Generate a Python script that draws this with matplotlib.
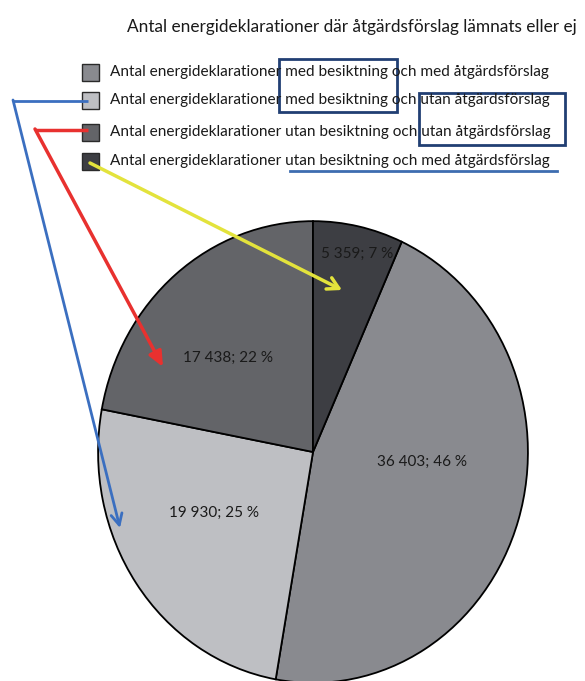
import numpy as np
import matplotlib
matplotlib.use('Agg')
import matplotlib.pyplot as plt
from matplotlib.patches import Rectangle

plt.rcParams['font.family'] = ['Lato', 'DejaVu Sans']

# data, in legend order
title = 'Antal energideklarationer där åtgärdsförslag lämnats eller ej'
categories = [
    'Antal energideklarationer med besiktning och med åtgärdsförslag',
    'Antal energideklarationer med besiktning och utan åtgärdsförslag',
    'Antal energideklarationer utan besiktning och utan åtgärdsförslag',
    'Antal energideklarationer utan besiktning och med åtgärdsförslag',
]
values = [36403, 19930, 17438, 5359]
value_labels = ['36 403; 46 %', '19 930; 25 %', '17 438; 22 %', '5 359; 7 %']

colors = ['#898a8f', '#bebfc3', '#636468', '#3d3e43']
# label placement: radius and angle shift from the wedge middle
label_r = [0.51, 0.53, 0.57, 0.88]
label_dang = [12.4, -5.0, 4.5, -1.2]

W, H = 585, 681
fig = plt.figure(figsize=(W / 100, H / 100), dpi=100)

# pie (slightly stretched vertically, like the scanned original)
cx, cy, rx, ry = 313, 452, 216, 232
ax = fig.add_axes([(cx - rx) / W, (H - cy - ry) / H, 2 * rx / W, 2 * ry / H])
total = sum(values)
start = 90 - 360 * values[-1] / total
wedges, _ = ax.pie(values, colors=colors, startangle=start, counterclock=False,
                   wedgeprops=dict(edgecolor='black', linewidth=1.3))
ax.set_aspect('auto')
ax.set_xlim(-1.005, 1.005)
ax.set_ylim(-1.005, 1.005)
for w, lab, r, da in zip(wedges, value_labels, label_r, label_dang):
    mid = np.deg2rad((w.theta1 + w.theta2) / 2 + da)
    ax.text(r * np.cos(mid), r * np.sin(mid), lab, ha='center', va='center',
            fontsize=11, color='#1a1a1a')

# overlay in pixel coords for title, legend, markup
ov = fig.add_axes([0, 0, 1, 1])
ov.set_xlim(0, W)
ov.set_ylim(H, 0)
ov.axis('off')

ov.text(127, 27, title, ha='left', va='center', fontsize=12.4, color='#1a1a1a')

rows_y = [72, 100, 132, 161]
for y, c, lab in zip(rows_y, colors, categories):
    ov.add_patch(Rectangle((82, y - 8.5), 17, 17, facecolor=c,
                           edgecolor='#2a2a2a', linewidth=1))
    ov.text(110, y, lab, ha='left', va='center', fontsize=11.05, color='#1a1a1a')

# boxes and underline
box_col = '#213f73'
ov.add_patch(Rectangle((279, 59), 118, 53, fill=False, edgecolor=box_col, linewidth=2))
ov.add_patch(Rectangle((419, 93), 146, 52, fill=False, edgecolor=box_col, linewidth=2))
ov.plot([290, 557], [171, 171], color='#3d6db0', linewidth=2)

# arrows
blue, red, yellow = '#3b6fc0', '#e8312f', '#e3e33c'
ov.plot([88, 13], [101, 101], color=blue, linewidth=2, solid_capstyle='butt')
ov.annotate('', xy=(120, 528), xytext=(13, 100),
            arrowprops=dict(arrowstyle='->,head_length=0.8,head_width=0.4',
                            color=blue, lw=2, shrinkA=0, shrinkB=0))
ov.plot([88, 35], [130, 130], color=red, linewidth=2.5, solid_capstyle='butt')
ov.annotate('', xy=(163, 367), xytext=(35, 129),
            arrowprops=dict(arrowstyle='-|>,head_length=0.9,head_width=0.4',
                            color=red, lw=2.5, shrinkA=0, shrinkB=0))
ov.annotate('', xy=(342, 290), xytext=(90, 163),
            arrowprops=dict(arrowstyle='->,head_length=0.8,head_width=0.45',
                            color=yellow, lw=2.5, shrinkA=0, shrinkB=0))

fig.savefig('out.png', dpi=100, facecolor='white')
